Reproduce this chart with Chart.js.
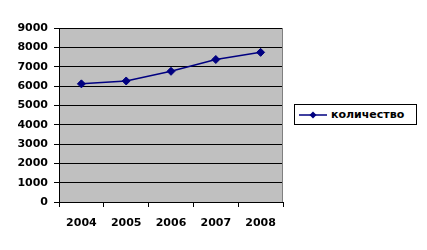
<!DOCTYPE html>
<html>
<head>
<meta charset="utf-8">
<script src="https://cdn.jsdelivr.net/npm/chart.js@4"></script>
<style>
  html, body { margin: 0; padding: 0; background: #fff; }
  #wrap { position: relative; width: 427px; height: 250px; }
  #legend {
    position: absolute; left: 294px; top: 104px; width: 123px; height: 21px;
    border: 1px solid #000; box-sizing: border-box; background: #fff;
    font: bold 11px "DejaVu Sans", sans-serif; color: #000;
    display: flex; align-items: center;
  }
  #legend svg { margin-left: 4px; margin-right: 4px; }
</style>
</head>
<body>
<div id="wrap">
  <canvas id="c" width="427" height="250"></canvas>
  <div id="legend">
    <svg width="28" height="8" viewBox="0 0 28 8"><line x1="0" y1="4" x2="28" y2="4" stroke="#000080" stroke-width="1.5"/><polygon points="14,0.5 17.5,4 14,7.5 10.5,4" fill="#000080"/></svg>
    <span id="legtext"></span>
  </div>
</div>
<script>
const categories = ["2004", "2005", "2006", "2007", "2008"];
const seriesName = "количество";
const values = [6110, 6260, 6760, 7370, 7740];
const yTicks = [0, 1000, 2000, 3000, 4000, 5000, 6000, 7000, 8000, 9000];

document.getElementById('legtext').textContent = seriesName;

const plotBg = {
  id: 'plotBg',
  beforeDraw(chart) {
    const {ctx, chartArea: a} = chart;
    ctx.save();
    ctx.fillStyle = '#C0C0C0';
    ctx.fillRect(a.left, a.top, a.right - a.left, a.bottom - a.top);
    ctx.restore();
  },
  afterDraw(chart) {
    const {ctx, chartArea: a} = chart;
    ctx.save();
    ctx.strokeStyle = '#808080';
    ctx.lineWidth = 1;
    ctx.beginPath();
    ctx.moveTo(Math.round(a.right) - 0.5, a.top);
    ctx.lineTo(Math.round(a.right) - 0.5, a.bottom);
    ctx.stroke();
    ctx.restore();
  }
};

const tickFont = { family: '"DejaVu Sans", sans-serif', size: 11, weight: 'bold' };

new Chart(document.getElementById('c'), {
  type: 'line',
  data: {
    labels: categories,
    datasets: [{
      label: seriesName,
      data: values,
      borderColor: '#000080',
      backgroundColor: '#000080',
      borderWidth: 1.5,
      pointStyle: 'rectRot',
      pointRadius: 4,
      pointHoverRadius: 4,
      pointBorderWidth: 1,
      tension: 0
    }]
  },
  options: {
    responsive: false,
    animation: false,
    events: [],
    layout: { padding: { left: 0, right: 144, top: 28, bottom: 0 } },
    plugins: { legend: { display: false }, tooltip: { enabled: false } },
    scales: {
      x: {
        type: 'category',
        offset: true,
        grid: { offset: true, drawOnChartArea: false, drawTicks: true, tickLength: 5, color: '#000' },
        border: { display: true, color: '#000', width: 1 },
        ticks: { color: '#000', font: tickFont, padding: 10, maxRotation: 0 },
        afterFit(s) { s.height = 48; }
      },
      y: {
        min: 0, max: 9000,
        afterBuildTicks(s) { s.ticks = yTicks.map(v => ({ value: v })); },
        grid: { drawOnChartArea: true, drawTicks: true, tickLength: 5, color: '#000' },
        border: { display: true, color: '#000', width: 1 },
        ticks: { color: '#000', font: tickFont, padding: 6, callback: (v) => String(v) },
        afterFit(s) { s.width = 59; }
      }
    }
  },
  plugins: [plotBg]
});
</script>
</body>
</html>
